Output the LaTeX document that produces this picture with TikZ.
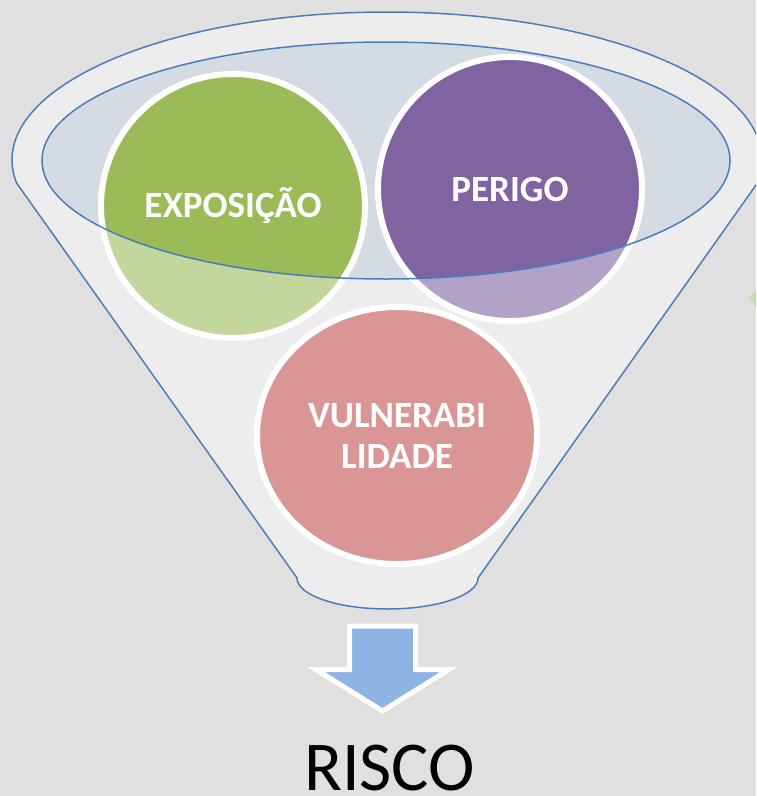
\documentclass[tikz,border=0pt]{standalone}
\usepackage{fontspec}
\setmainfont{Carlito}
\usetikzlibrary{shapes.geometric}
\definecolor{bgray}{HTML}{E0E0E0}
\definecolor{funnelfill}{HTML}{EDEDED}
\definecolor{rimblue}{HTML}{4A7EBB}
\definecolor{mouthfill}{HTML}{D5DBE3}
\definecolor{greenfull}{HTML}{9BBB59}
\definecolor{greenlight}{HTML}{C3D69B}
\definecolor{purplefull}{HTML}{8064A2}
\definecolor{purplelight}{HTML}{B2A2C7}
\definecolor{pinkfull}{HTML}{D99694}
\definecolor{arrowblue}{HTML}{8EB4E3}
\definecolor{edgegreen}{HTML}{C6DCB0}
\tikzset{
  blob/.style={ellipse, draw=white, line width=6pt, text=white, inner sep=0pt,
    font=\fontsize{37}{41}\selectfont\bfseries, align=center},
  rim/.style={rimblue, line width=1.5pt},
  mouthr/.style={x radius=344pt, y radius=118.5pt},
}

\begin{document}
\begin{tikzpicture}[x=1pt,y=-1pt]
\useasboundingbox (0,0) rectangle (756,796);
\fill[bgray] (0,0) rectangle (756,796);
\begin{scope}
\clip (0,0) rectangle (756,796);
\draw[rim, fill=funnelfill] (16.6,183) arc[start angle=188.94, end angle=-8.94, x radius=375pt, y radius=148pt]
  -- (478,578) arc[start angle=0, end angle=-180, x radius=90.5pt, y radius=31pt] -- cycle;
\fill[edgegreen] (749,298) -- (756,290) -- (756,307) -- cycle;
\end{scope}
\node[ellipse, fill=mouthfill, minimum width=688pt, minimum height=237pt, inner sep=0pt] (mouth) at (386,160.5) {};

\node[blob, fill=greenlight, minimum width=264pt, minimum height=264pt,
  path picture={\fill[greenfull] (mouth.center) ellipse[mouthr];}] (expo) at (233,206) {EXPOSIÇÃO};
\node[blob, fill=purplelight, minimum width=264pt, minimum height=264pt,
  path picture={\fill[purplefull] (mouth.center) ellipse[mouthr];}] (perigo) at (510,189) {PERIGO};
\node[blob, fill=pinkfull, minimum width=280pt, minimum height=257pt] (vuln) at (397,435.5) {VULNERABI\\LIDADE};

\draw[rim] (mouth.center) ellipse[mouthr];

\draw[white, line width=5pt, fill=arrowblue] (349.5,626) -- (415.5,626) -- (415.5,669.5) -- (449,669.5)
  -- (382.5,711) -- (316,669.5) -- (349.5,669.5) -- cycle;
\node[font=\fontsize{70}{80}\selectfont, anchor=base, inner sep=0pt] (risco) at (389.5,790) {RISCO};
\end{tikzpicture}
\end{document}
